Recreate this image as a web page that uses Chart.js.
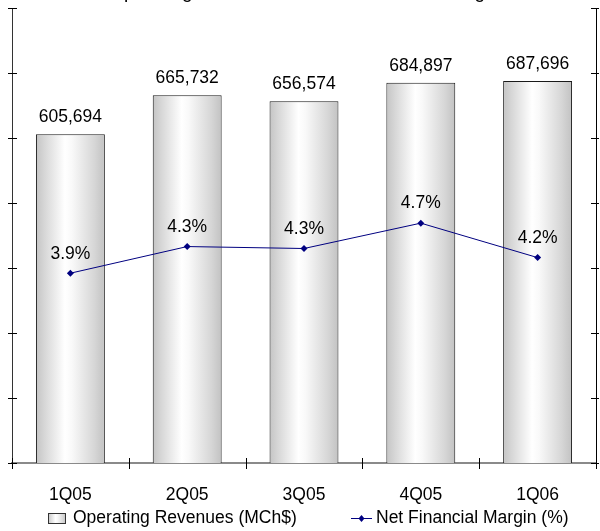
<!DOCTYPE html>
<html>
<head>
<meta charset="utf-8">
<script src="https://cdn.jsdelivr.net/npm/chart.js@4.4.1/dist/chart.umd.min.js"></script>
<style>
  html, body { margin: 0; padding: 0; background: #ffffff; }
  #wrap { position: relative; width: 600px; height: 531px; overflow: hidden; background: #fff; }
  #c { position: absolute; left: 0; top: -30px; width: 600px; height: 561px; }
</style>
</head>
<body>
<div id="wrap"><canvas id="c" width="600" height="561"></canvas></div>
<script>
// ---- data ----
const categories = ['1Q05', '2Q05', '3Q05', '4Q05', '1Q06'];
const revenues = [605694, 665732, 656574, 684897, 687696];
const netMargin = [3.92, 4.33, 4.30, 4.69, 4.16];
const seriesNames = ['Operating Revenues (MCh$)', 'Net Financial Margin (%)'];
const chartTitle = 'Operating Revenues and Net Financial Margin';

const FONT = "'Liberation Sans', Arial, Helvetica, sans-serif";
const BAR_PCT = 0.59;

function barGradient(ctx2d, x0, x1) {
  const g = ctx2d.createLinearGradient(x0, 0, x1, 0);
  g.addColorStop(0, '#c4c4c4');
  g.addColorStop(0.12, '#d6d6d6');
  g.addColorStop(0.42, '#ffffff');
  g.addColorStop(0.52, '#f9f9f9');
  g.addColorStop(0.85, '#d6d6d6');
  g.addColorStop(1, '#c2c2c2');
  return g;
}

const valueLabels = {
  id: 'valueLabels',
  afterDatasetsDraw(chart) {
    const ctx = chart.ctx;
    ctx.save();
    ctx.font = '17.5px ' + FONT;
    ctx.fillStyle = '#000';
    ctx.textAlign = 'center';
    ctx.textBaseline = 'middle';
    const barMeta = chart.getDatasetMeta(0);
    barMeta.data.forEach((el, i) => {
      ctx.fillText(revenues[i].toLocaleString('en-US'), el.x, el.y - 17);
    });
    const lineMeta = chart.getDatasetMeta(1);
    lineMeta.data.forEach((el, i) => {
      ctx.fillText(netMargin[i].toFixed(1) + '%', el.x, el.y - 19.5);
    });
    ctx.restore();
  }
};

const axisTicks = {
  id: 'axisTicks',
  afterDraw(chart) {
    const ctx = chart.ctx;
    const a = chart.chartArea;
    const y = chart.scales.y, y1 = chart.scales.y1, x = chart.scales.x;
    ctx.save();
    ctx.strokeStyle = '#000';
    ctx.lineWidth = 1;
    ctx.beginPath();
    y.ticks.forEach(t => {
      const py = Math.round(y.getPixelForValue(t.value)) + 0.5;
      ctx.moveTo(a.left - 4, py); ctx.lineTo(a.left + 5, py);
    });
    y1.ticks.forEach(t => {
      const py = Math.round(y1.getPixelForValue(t.value)) + 0.5;
      ctx.moveTo(a.right - 5, py); ctx.lineTo(a.right + 3, py);
    });
    const n = categories.length;
    for (let i = 0; i <= n; i++) {
      const px = Math.round(x.getPixelForValue(i - 0.5)) + 0.5;
      ctx.moveTo(px, a.bottom - 5); ctx.lineTo(px, a.bottom + 6);
    }
    ctx.stroke();
    ctx.restore();
  }
};

const customLegend = {
  id: 'customLegend',
  afterDraw(chart) {
    const ctx = chart.ctx;
    const a = chart.chartArea;
    const cy = a.bottom + 55;
    ctx.save();
    ctx.font = '17.5px ' + FONT;
    ctx.textBaseline = 'middle';
    ctx.textAlign = 'left';
    // bar item
    const bx = a.left + 36;
    ctx.fillStyle = barGradient(ctx, bx, bx + 18);
    ctx.fillRect(bx, cy - 5, 18, 11);
    ctx.strokeStyle = '#333';
    ctx.lineWidth = 1;
    ctx.strokeRect(bx + 0.5, cy - 4.5, 17, 10);
    ctx.fillStyle = '#000';
    ctx.fillText(seriesNames[0], a.left + 61, cy);
    // line item
    const lx = a.left + 339;
    ctx.strokeStyle = '#000080';
    ctx.beginPath();
    ctx.moveTo(lx, cy + 0.5); ctx.lineTo(lx + 21, cy + 0.5);
    ctx.stroke();
    ctx.fillStyle = '#000080';
    ctx.beginPath();
    const dx = lx + 10.5;
    ctx.moveTo(dx, cy - 3); ctx.lineTo(dx + 3, cy + 0.5); ctx.lineTo(dx, cy + 4); ctx.lineTo(dx - 3, cy + 0.5);
    ctx.closePath(); ctx.fill();
    ctx.fillStyle = '#000';
    ctx.fillText(seriesNames[1], a.left + 364, cy);
    ctx.restore();
  }
};

new Chart(document.getElementById('c'), {
  data: {
    labels: categories,
    datasets: [
      {
        type: 'bar',
        label: seriesNames[0],
        data: revenues,
        yAxisID: 'y',
        order: 2,
        backgroundColor: (c) => {
          const chart = c.chart;
          const xs = chart.scales && chart.scales.x;
          if (!xs || !xs.width || c.type !== 'data') return '#e4e4e4';
          const cx = xs.getPixelForValue(c.dataIndex);
          const w = xs.width / categories.length * BAR_PCT;
          return barGradient(chart.ctx, cx - w / 2, cx + w / 2);
        },
        borderColor: '#1a1a1a',
        borderWidth: 1,
        borderSkipped: false,
        categoryPercentage: 1,
        barPercentage: BAR_PCT
      },
      {
        type: 'line',
        label: seriesNames[1],
        data: netMargin,
        yAxisID: 'y1',
        order: 1,
        borderColor: '#000080',
        borderWidth: 1,
        backgroundColor: '#000080',
        pointStyle: 'rectRot',
        pointRadius: 3.5,
        pointBorderWidth: 0,
        pointBackgroundColor: '#000080',
        tension: 0
      }
    ]
  },
  options: {
    responsive: false,
    maintainAspectRatio: false,
    animation: false,
    devicePixelRatio: 1,
    layout: { padding: { left: 12, right: 3, top: 0, bottom: 4.5 } },
    plugins: {
      legend: { display: false },
      tooltip: { enabled: false },
      title: {
        display: true,
        text: chartTitle,
        color: '#000',
        font: { family: FONT, size: 19, weight: 'normal', lineHeight: 1.2 },
        padding: { top: 11.1, bottom: 4.1 }
      }
    },
    scales: {
      x: {
        offset: true,
        grid: { display: false, drawTicks: false },
        border: { display: true, color: '#8a8a8a', width: 2 },
        ticks: { color: '#000', font: { family: FONT, size: 17.5, lineHeight: 1.2 }, padding: 21.25, maxRotation: 0, autoSkip: false }
      },
      y: {
        position: 'left',
        min: 100000, max: 800000,
        ticks: { display: false, stepSize: 100000 },
        grid: { display: false, drawTicks: false },
        border: { display: true, color: '#333', width: 1 }
      },
      y1: {
        position: 'right',
        min: 1, max: 8,
        ticks: { display: false, stepSize: 1 },
        grid: { display: false, drawTicks: false },
        border: { display: true, color: '#000', width: 1 }
      }
    }
  },
  plugins: [valueLabels, axisTicks, customLegend]
});
</script>
</body>
</html>
